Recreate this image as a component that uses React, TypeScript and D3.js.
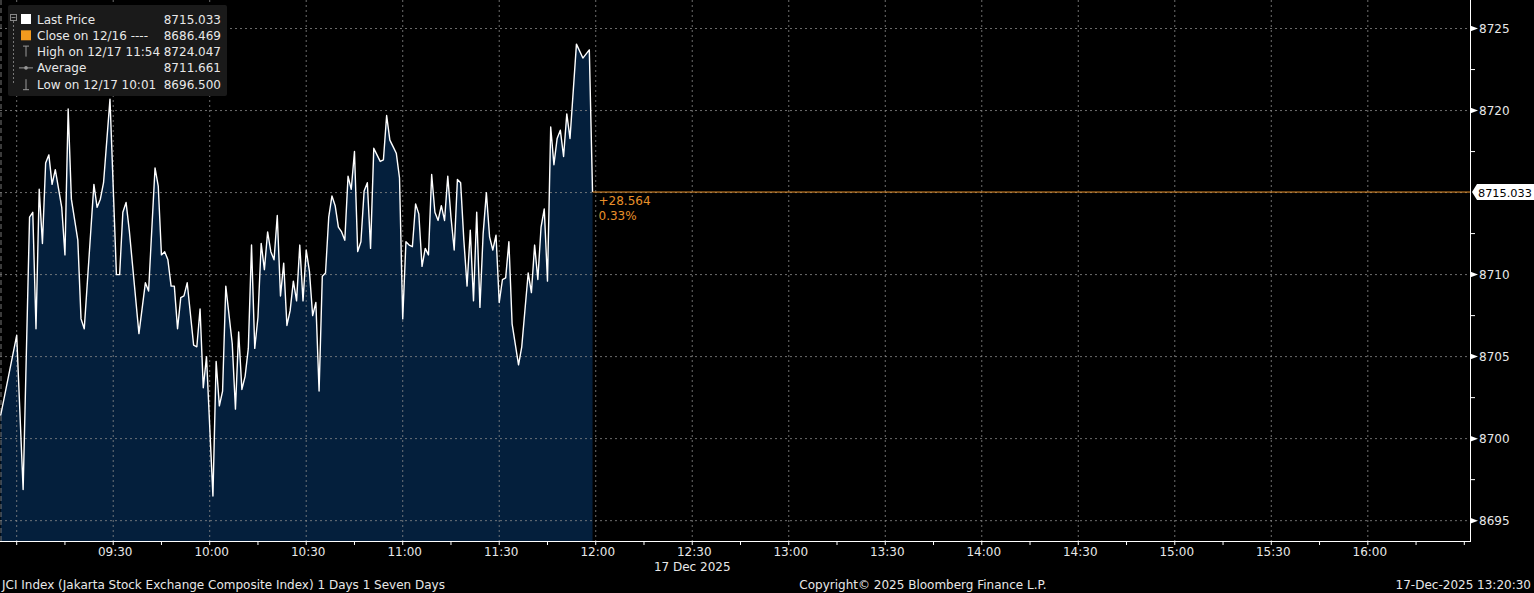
import React from "react";
import * as d3 from "d3";

// ---------- DATA ----------
const sessionStart = "08:55"; // first print of the day
// minutes after sessionStart for each print
const offsetsMin = [
  0, 5, 7, 9, 10, 11, 12, 13, 14, 15, 16, 17, 19, 20, 21, 22, 24, 25, 26, 29,
  30, 31, 32, 34, 36, 37, 38, 39, 40, 43, 45, 46, 48, 49, 50, 51, 52, 53, 54, 55,
  56, 57, 58, 60, 61, 62, 63, 64, 66, 67, 68, 69, 70, 72, 73, 74, 75, 76, 77, 78,
  79, 80, 81, 82, 83, 84, 85, 86, 87, 88, 89, 90, 91, 92, 93, 94, 95, 96, 97, 98,
  99, 100, 101, 102, 103, 104, 105, 106, 107, 108, 109, 110, 111, 112, 113, 114, 115, 116, 117, 118,
  119, 120, 121, 122, 123, 124, 125, 126, 127, 128, 129, 130, 131, 132, 133, 134, 135, 136, 137, 138,
  139, 140, 141, 142, 143, 144, 145, 146, 147, 148, 149, 150, 151, 152, 153, 154, 155, 156, 157, 158,
  159, 161, 162, 164, 165, 166, 167, 168, 169, 170, 171, 172, 173, 174, 175, 176, 177, 179, 181, 183,
  184,
];
const prices = [
  8701.4, 8706.3, 8696.9, 8713.5, 8713.8, 8706.7, 8715.2, 8711.9, 8716.8, 8717.3, 8715.5, 8716.4, 8714.1, 8711.2, 8720.1, 8714.6, 8712.1, 8707.3, 8706.7, 8715.5,
  8714.1, 8714.6, 8715.6, 8720.7, 8710.0, 8710.0, 8713.8, 8714.4, 8712.7, 8706.4, 8709.5, 8709.0, 8716.5, 8715.4, 8711.2, 8711.4, 8710.9, 8709.3, 8709.3, 8706.7,
  8708.6, 8708.7, 8709.5, 8705.7, 8705.6, 8707.9, 8703.1, 8705.0, 8696.5, 8704.7, 8702.0, 8702.9, 8709.3, 8705.8, 8701.8, 8706.5, 8703.0, 8703.8, 8705.5, 8711.8,
  8705.5, 8707.4, 8711.9, 8710.3, 8712.6, 8711.4, 8710.9, 8713.6, 8708.7, 8710.7, 8706.9, 8707.8, 8709.6, 8708.4, 8711.8, 8708.4, 8711.5, 8710.2, 8707.5, 8708.3,
  8702.9, 8709.9, 8710.1, 8713.5, 8714.8, 8714.2, 8712.9, 8712.6, 8712.1, 8716.0, 8715.2, 8717.5, 8711.4, 8712.0, 8715.1, 8715.6, 8711.6, 8717.7, 8717.3, 8716.9,
  8717.0, 8719.7, 8718.2, 8717.8, 8717.4, 8715.9, 8707.3, 8712.0, 8711.8, 8711.7, 8714.3, 8713.7, 8710.5, 8711.6, 8711.2, 8716.1, 8713.8, 8713.3, 8714.2, 8713.3,
  8716.0, 8713.5, 8711.5, 8715.8, 8715.6, 8712.1, 8709.3, 8712.7, 8708.4, 8713.8, 8708.0, 8712.5, 8715.0, 8712.3, 8711.5, 8712.4, 8708.3, 8709.7, 8709.8, 8712.0,
  8707.0, 8704.5, 8705.6, 8710.1, 8708.9, 8711.8, 8709.7, 8712.9, 8714.0, 8709.6, 8719.0, 8716.7, 8718.3, 8718.8, 8717.2, 8719.8, 8718.3, 8724.05, 8723.2, 8723.7,
  8715.033,
];
const lastPrice = 8715.033;
const changeText = "+28.564";
const changePctText = "0.33%";
const yTicks = [8695, 8700, 8705, 8710, 8715, 8720, 8725];
const yTickLabels = ["8695", "8700", "8705", "8710", "", "8720", "8725"];
const yMinorTicks = [8697.5, 8702.5, 8707.5, 8712.5, 8717.5, 8722.5];
const xGridTimes = ["09:00", "09:30", "10:00", "10:30", "11:00", "11:30", "12:00", "12:30", "13:00", "13:30", "14:00", "14:30", "15:00", "15:30", "16:00"];
const xTickLabels = ["09:30", "10:00", "10:30", "11:00", "11:30", "12:00", "12:30", "13:00", "13:30", "14:00", "14:30", "15:00", "15:30", "16:00"];
const xMinorTicks = ["09:00", "09:15", "09:30", "09:45", "10:00", "10:15", "10:30", "10:45", "11:00", "11:15", "11:30", "11:45", "12:00", "12:15", "12:30", "12:45", "13:00", "13:15", "13:30", "13:45", "14:00", "14:15", "14:30", "14:45", "15:00", "15:15", "15:30", "15:45", "16:00", "16:15", "16:30"];
const dateLabel = "17 Dec 2025";
const legendRows = [
  { label: "Last Price", value: "8715.033", icon: "white" },
  { label: "Close on 12/16 ----", value: "8686.469", icon: "orange" },
  { label: "High on 12/17 11:54", value: "8724.047", icon: "high" },
  { label: "Average", value: "8711.661", icon: "avg" },
  { label: "Low on 12/17 10:01", value: "8696.500", icon: "low" },
];
const footerLeft = "JCI Index (Jakarta Stock Exchange Composite Index) 1 Days 1 Seven Days";
const footerMid = "Copyright\u00A9 2025 Bloomberg Finance L.P.";
const footerRight = "17-Dec-2025 13:20:30";

// ---------- HELPERS ----------
const t = (hhmm: string) => {
  const [h, m] = hhmm.split(":").map(Number);
  return new Date(2025, 11, 17, h, m, 0);
};

const W = 1534;
const H = 593;
const plotRight = 1470;
const plotBottom = 541;
const FONT = "'DejaVu Sans', Verdana, sans-serif";
const FS = 12;
const TXT = "#e8e8e8";
const ORANGE = "#e8902a";

export default function App() {
  const start = t(sessionStart);
  const x = d3
    .scaleTime()
    .domain([new Date(start.getTime() - 0.19 * 60000), new Date(start.getTime() + 456.77 * 60000)])
    .range([0, plotRight]);
  const y = d3.scaleLinear().domain([8693.76, 8726.74]).range([plotBottom, 0]);

  const pts = offsetsMin.map((m, i) => ({ d: new Date(start.getTime() + m * 60000), v: prices[i] }));
  const line = d3.line<any>().x((p) => x(p.d)).y((p) => y(p.v));
  const area = d3.area<any>().x((p) => x(p.d)).y0(plotBottom).y1((p) => y(p.v));
  const lastX = x(pts[pts.length - 1].d);
  const lastY = y(lastPrice);

  return (
    <div style={{ position: "absolute", left: 0, top: 0 }}>
      <svg width={W} height={H} style={{ display: "block", background: "#000" }} fontFamily={FONT}>
        <rect x={0} y={0} width={W} height={H} fill="#000" />
        {/* area */}
        <path d={area(pts) || ""} fill="#041f3c" />
        {/* grid */}
        {yTicks.map((v) => (
          <line key={"gy" + v} x1={0} x2={plotRight} y1={y(v)} y2={y(v)} stroke="#8a8a8a" strokeWidth={1} strokeDasharray="2,3" opacity={0.8} />
        ))}
        {xGridTimes.map((s) => (
          <line key={"gx" + s} x1={x(t(s))} x2={x(t(s))} y1={0} y2={plotBottom} stroke="#8a8a8a" strokeWidth={1} strokeDasharray="2,3" opacity={0.8} />
        ))}
        <line x1={1} x2={1} y1={0} y2={plotBottom} stroke="#777" strokeDasharray="5,3" />
        {/* price line */}
        <path d={line(pts) || ""} fill="none" stroke="#ffffff" strokeWidth={1.4} strokeLinejoin="round" />
        {/* last price extension */}
        <line x1={lastX} x2={plotRight} y1={lastY} y2={lastY} stroke={ORANGE} strokeWidth={1} />
        <text x={lastX + 6} y={lastY + 13} fill={ORANGE} fontSize={FS}>{changeText}</text>
        <text x={lastX + 6} y={lastY + 28} fill={ORANGE} fontSize={FS}>{changePctText}</text>
        {/* right axis */}
        <line x1={plotRight + 0.5} x2={plotRight + 0.5} y1={0} y2={plotBottom} stroke="#fff" />
        {yTicks.map((v, i) => (
          <g key={"yt" + v}>
            {yTickLabels[i] && <path d={`M${plotRight},${y(v) - 3} L${plotRight + 8},${y(v)} L${plotRight},${y(v) + 3} Z`} fill="#fff" />}
            {yTickLabels[i] && (
              <text x={plotRight + 9} y={y(v) + 4.5} fill={TXT} fontSize={FS}>{yTickLabels[i]}</text>
            )}
          </g>
        ))}
        {yMinorTicks.map((v) => (
          <line key={"ym" + v} x1={plotRight} x2={plotRight + 5} y1={y(v)} y2={y(v)} stroke="#fff" />
        ))}
        {/* last price tag */}
        <path d={`M${plotRight + 2},${lastY} L${plotRight + 7},${lastY - 8} L${W},${lastY - 8} L${W},${lastY + 8} L${plotRight + 7},${lastY + 8} Z`} fill="#fff" />
        <text x={plotRight + 8} y={lastY + 4.5} fill="#000" fontSize={11.3}>{lastPrice.toFixed(3)}</text>
        {/* bottom axis */}
        <line x1={0} x2={plotRight + 1} y1={plotBottom + 0.5} y2={plotBottom + 0.5} stroke="#fff" />
        {xMinorTicks.map((s) => (
          <line key={"xm" + s} x1={x(t(s))} x2={x(t(s))} y1={plotBottom} y2={plotBottom + 4} stroke="#fff" />
        ))}
        {xTickLabels.map((s) => (
          <text key={"xl" + s} x={x(t(s)) + 2} y={plotBottom + 14.5} fill={TXT} fontSize={FS} textAnchor="middle">{s}</text>
        ))}
        <text x={x(t("12:30"))} y={plotBottom + 29.5} fill={TXT} fontSize={FS} textAnchor="middle">{dateLabel}</text>
        {/* footer */}
        <text x={2} y={588.5} fill={TXT} fontSize={FS}>{footerLeft}</text>
        <text x={923} y={588.5} fill={TXT} fontSize={FS} textAnchor="middle">{footerMid}</text>
        <text x={1531} y={588.5} fill={TXT} fontSize={FS} textAnchor="end">{footerRight}</text>
        {/* legend */}
        <rect x={8} y={5} width={219} height={91} fill="#1a1a1a" rx={2} />
        <rect x={10.5} y={14.5} width={6} height={6} fill="none" stroke="#888" />
        <line x1={11.5} x2={15.5} y1={17.5} y2={17.5} stroke="#888" />
        <line x1={13.5} x2={13.5} y1={21} y2={84} stroke="#777" strokeDasharray="2,2" />
        {legendRows.map((r, i) => {
          const cy = 19 + i * 16.3;
          return (
            <g key={"lg" + i}>
              {r.icon === "white" && <rect x={21} y={cy - 5} width={10} height={10} fill="#fff" />}
              {r.icon === "orange" && <rect x={21} y={cy - 5} width={10} height={10} fill="#f39a1e" />}
              {r.icon === "high" && (
                <g stroke="#999">
                  <line x1={23} x2={29} y1={cy - 5.5} y2={cy - 5.5} />
                  <line x1={26} x2={26} y1={cy - 5.5} y2={cy + 5} />
                </g>
              )}
              {r.icon === "avg" && (
                <g>
                  <line x1={19} x2={33} y1={cy} y2={cy} stroke="#999" />
                  <circle cx={26} cy={cy} r={1.8} fill="#999" />
                </g>
              )}
              {r.icon === "low" && (
                <g stroke="#999">
                  <line x1={23} x2={29} y1={cy + 5.5} y2={cy + 5.5} />
                  <line x1={26} x2={26} y1={cy - 5} y2={cy + 5.5} />
                </g>
              )}
              <text x={37} y={cy + 4.5} fill={TXT} fontSize={FS}>{r.label}</text>
              <text x={221} y={cy + 4.5} fill={TXT} fontSize={FS} textAnchor="end">{r.value}</text>
            </g>
          );
        })}
      </svg>
    </div>
  );
}
